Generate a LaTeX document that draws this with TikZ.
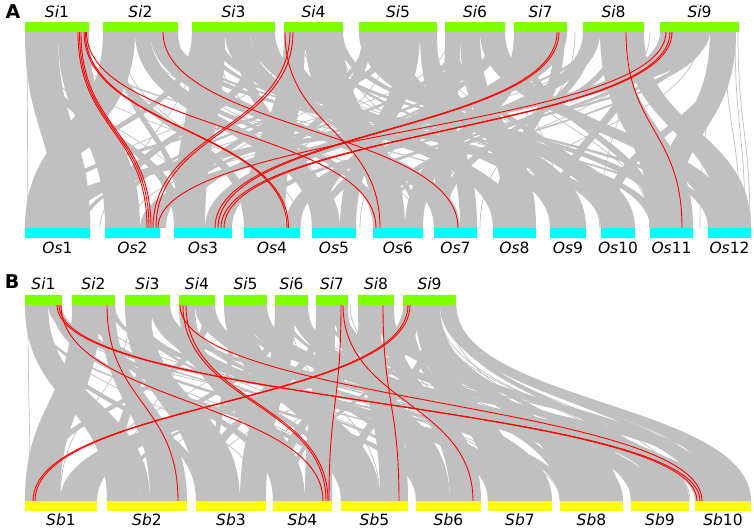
\documentclass[tikz,border=0pt]{standalone}
\usepackage{fontspec}
\setmainfont{DejaVu Sans}
\definecolor{ribc}{RGB}{192,192,192}
\definecolor{sigreen}{RGB}{127,255,0}
\definecolor{oscyan}{RGB}{0,255,255}
\definecolor{sbyellow}{RGB}{255,255,0}
\definecolor{redl}{RGB}{255,0,0}
% ribbon: ty, my, by, a, b, c, d
\newcommand\synrib[7]{\fill[ribc] (#4,#1) .. controls (#4,#2) and (#6,#2) .. (#6,#3) -- (#7,#3) .. controls (#7,#2) and (#5,#2) .. (#5,#1) -- cycle;}
% link: style, ty, my, by, a, c
\newcommand\synlink[6]{\draw[#1] (#5,#2) .. controls (#5,#3) and (#6,#3) .. (#6,#4);}
\tikzset{
  lab/.style={font=\fontsize{15.5}{18}\selectfont, inner sep=0pt},
  panlab/.style={font=\fontsize{19}{22}\selectfont\bfseries, inner sep=0pt},
  thinl/.style={draw=ribc, line width=0.7pt},
  redline/.style={draw=redl, line width=0.9pt},
}
\begin{document}
\begin{tikzpicture}[x=1pt,y=-1pt]
\useasboundingbox (0,0) rectangle (754,529);
\fill[white] (0,0) rectangle (754,529);
% ---------------- Panel A ----------------
\foreach \a/\b/\c/\d in {
 25/58/55/90, 58/89/105/140, 103/135/25/60, 135/150/312/340, 150/178/434/460,
 192/225/174/205, 225/250/493/520, 250/275/550/570,
 284/305/244/285, 305/343/373/405,
 359/380/601/635, 380/400/560/586, 400/420/340/356, 420/437/460/477,
 445/460/434/450, 460/480/505/536, 480/505/708/735,
 514/530/405/423, 530/567/205/232,
 583/600/285/300, 600/625/650/693, 625/644/720/751,
 660/680/140/160, 680/710/40/70, 710/736/650/675, 335/343/665/680,
 200/206/610/616, 365/371/112/118, 490/496/250/256, 170/175/685/690,
 540/545/320/325, 590/595/80/85, 265/270/415/420, 70/74/520/524,
 320/325/575/580, 690/695/380/385, 115/121/180/186, 455/462/160/166,
 25/35/174/184, 103/112/244/254, 140/150/373/383, 165/176/601/612,
 192/200/25/35, 210/220/650/660, 235/245/312/322, 255/265/105/115,
 284/292/493/503, 300/308/708/718, 330/340/174/184, 362/372/244/254,
 390/400/25/35, 425/435/550/560, 447/455/601/611, 470/478/312/322,
 498/505/174/184, 518/526/650/660, 555/565/493/503, 585/593/434/444,
 615/623/373/383, 635/644/550/560, 665/672/312/322, 700/708/244/254,
 725/735/601/612}
 {\synrib{32}{130}{228}{\a}{\b}{\c}{\d}}
\foreach \a/\c in {27/28, 32/90, 45/300, 65/420, 110/30, 120/250, 140/530, 175/690,
 195/120, 215/330, 240/440, 270/600, 290/50, 300/560, 340/470, 365/180, 390/260,
 430/620, 450/100, 470/360, 500/650, 520/560, 550/300, 575/480, 600/130, 630/600,
 650/420, 700/500, 720/650, 735/745, 738/750, 725/740, 712/700, 40/200, 160/380}
 {\synlink{thinl}{32}{130}{228}{\a}{\c}}
% red lines A
\foreach \a/\c in {78/147, 79.5/149, 81/151, 84/287, 85.3/288.5, 86.5/376,
 163/458, 285/380, 290/153, 293/156, 557/215, 559/218, 626/682,
 666/158, 670/221, 672/224}
 {\synlink{redline}{32}{130}{228}{\a}{\c}}
% bars A
\foreach \l/\r in {25/89, 103/178, 192/275, 284/343, 359/437, 445/505, 514/567, 583/644, 660/739}
 {\fill[sigreen] (\l,22) rectangle (\r,32);}
\foreach \l/\r in {25/90, 105/160, 174/232, 244/300, 312/356, 373/423, 434/477, 493/536, 550/586, 601/635, 650/693, 708/751}
 {\fill[oscyan] (\l,228) rectangle (\r,238);}
\node[panlab] (pA) at (13,12) {A};
\foreach \x [count=\i] in {57, 140.5, 233.5, 313.5, 398, 475, 540.5, 613.5, 699.5}
 {\node[lab] (siA\i) at (\x,12) {\textit{Si}\i};}
\foreach \x [count=\i] in {57.5, 132.5, 203, 272, 334, 398, 455.5, 514.5, 568, 618, 671.5, 729.5}
 {\node[lab] (osA\i) at (\x,248) {\textit{Os}\i};}
% ---------------- Panel B ----------------
\foreach \a/\b/\c/\d in {
 25/48/107/140, 48/62/695/720, 72/100/25/60, 100/115/150/187,
 125/150/196/240, 150/170/488/520, 179/195/273/305, 195/215/631/660,
 224/250/341/380, 250/267/590/623, 275/295/240/266, 295/308/520/552,
 316/335/305/332, 335/348/416/450, 358/380/380/408, 380/394/450/481,
 403/425/60/97, 425/440/560/590, 440/456/720/751, 240/258/660/689,
 160/170/695/710, 35/48/140/150,
 30/34/350/354, 85/90/500/505, 135/140/430/435, 200/205/600/605,
 230/235/210/215, 280/285/640/645, 320/325/740/745, 365/370/120/125,
 415/420/285/290, 110/115/675/680, 430/437/610/620, 445/452/700/712,
 25/32/196/206, 52/60/341/351, 75/83/416/426, 95/103/273/283,
 128/136/560/570, 145/152/107/117, 163/170/341/350, 182/190/488/498,
 205/212/25/35, 228/236/695/705, 255/263/416/426, 278/286/107/117,
 300/306/631/641, 318/326/196/206, 340/347/560/570, 360/368/273/283,
 385/392/631/641, 405/412/488/498, 430/437/341/351, 448/454/650/665,
 415/435/488/520, 290/305/600/623, 330/345/660/689, 250/262/720/740,
 370/390/700/725, 200/212/540/552}
 {\synrib{305}{403}{501}{\a}{\b}{\c}{\d}}
\foreach \a/\c in {28/30, 40/260, 55/560, 80/350, 95/640, 130/60, 160/430, 190/120,
 210/520, 235/740, 260/80, 290/380, 305/690, 330/150, 350/610, 370/260, 390/500,
 410/200, 430/660, 448/600, 452/730, 454/742, 456/750, 450/715, 444/680, 438/650}
 {\synlink{thinl}{305}{403}{501}{\a}{\c}}
\foreach \a/\c in {57/697, 59/700, 61/323, 107/178, 180/702, 183/326, 186/328,
 341/329, 343/473, 383/399, 408/33, 410/35}
 {\synlink{redline}{305}{403}{501}{\a}{\c}}
\foreach \l/\r in {25/62, 72/115, 125/170, 179/215, 224/267, 275/308, 316/348, 358/394, 403/456}
 {\fill[sigreen] (\l,295) rectangle (\r,305);}
\foreach \l/\r in {25/97, 107/187, 196/266, 273/332, 341/408, 416/481, 488/552, 560/623, 631/689, 695/751}
 {\fill[sbyellow] (\l,501) rectangle (\r,511);}
\node[panlab] (pB) at (12,282) {B};
\foreach \x [count=\i] in {43.5, 93.5, 147.5, 197, 245.5, 291.5, 332, 376, 429.5}
 {\node[lab] (siB\i) at (\x,284) {\textit{Si}\i};}
\foreach \x [count=\i] in {61, 147, 231, 302.5, 374.5, 448.5, 520, 591.5, 660, 723}
 {\node[lab] (sbB\i) at (\x,520) {\textit{Sb}\i};}
\end{tikzpicture}
\end{document}
